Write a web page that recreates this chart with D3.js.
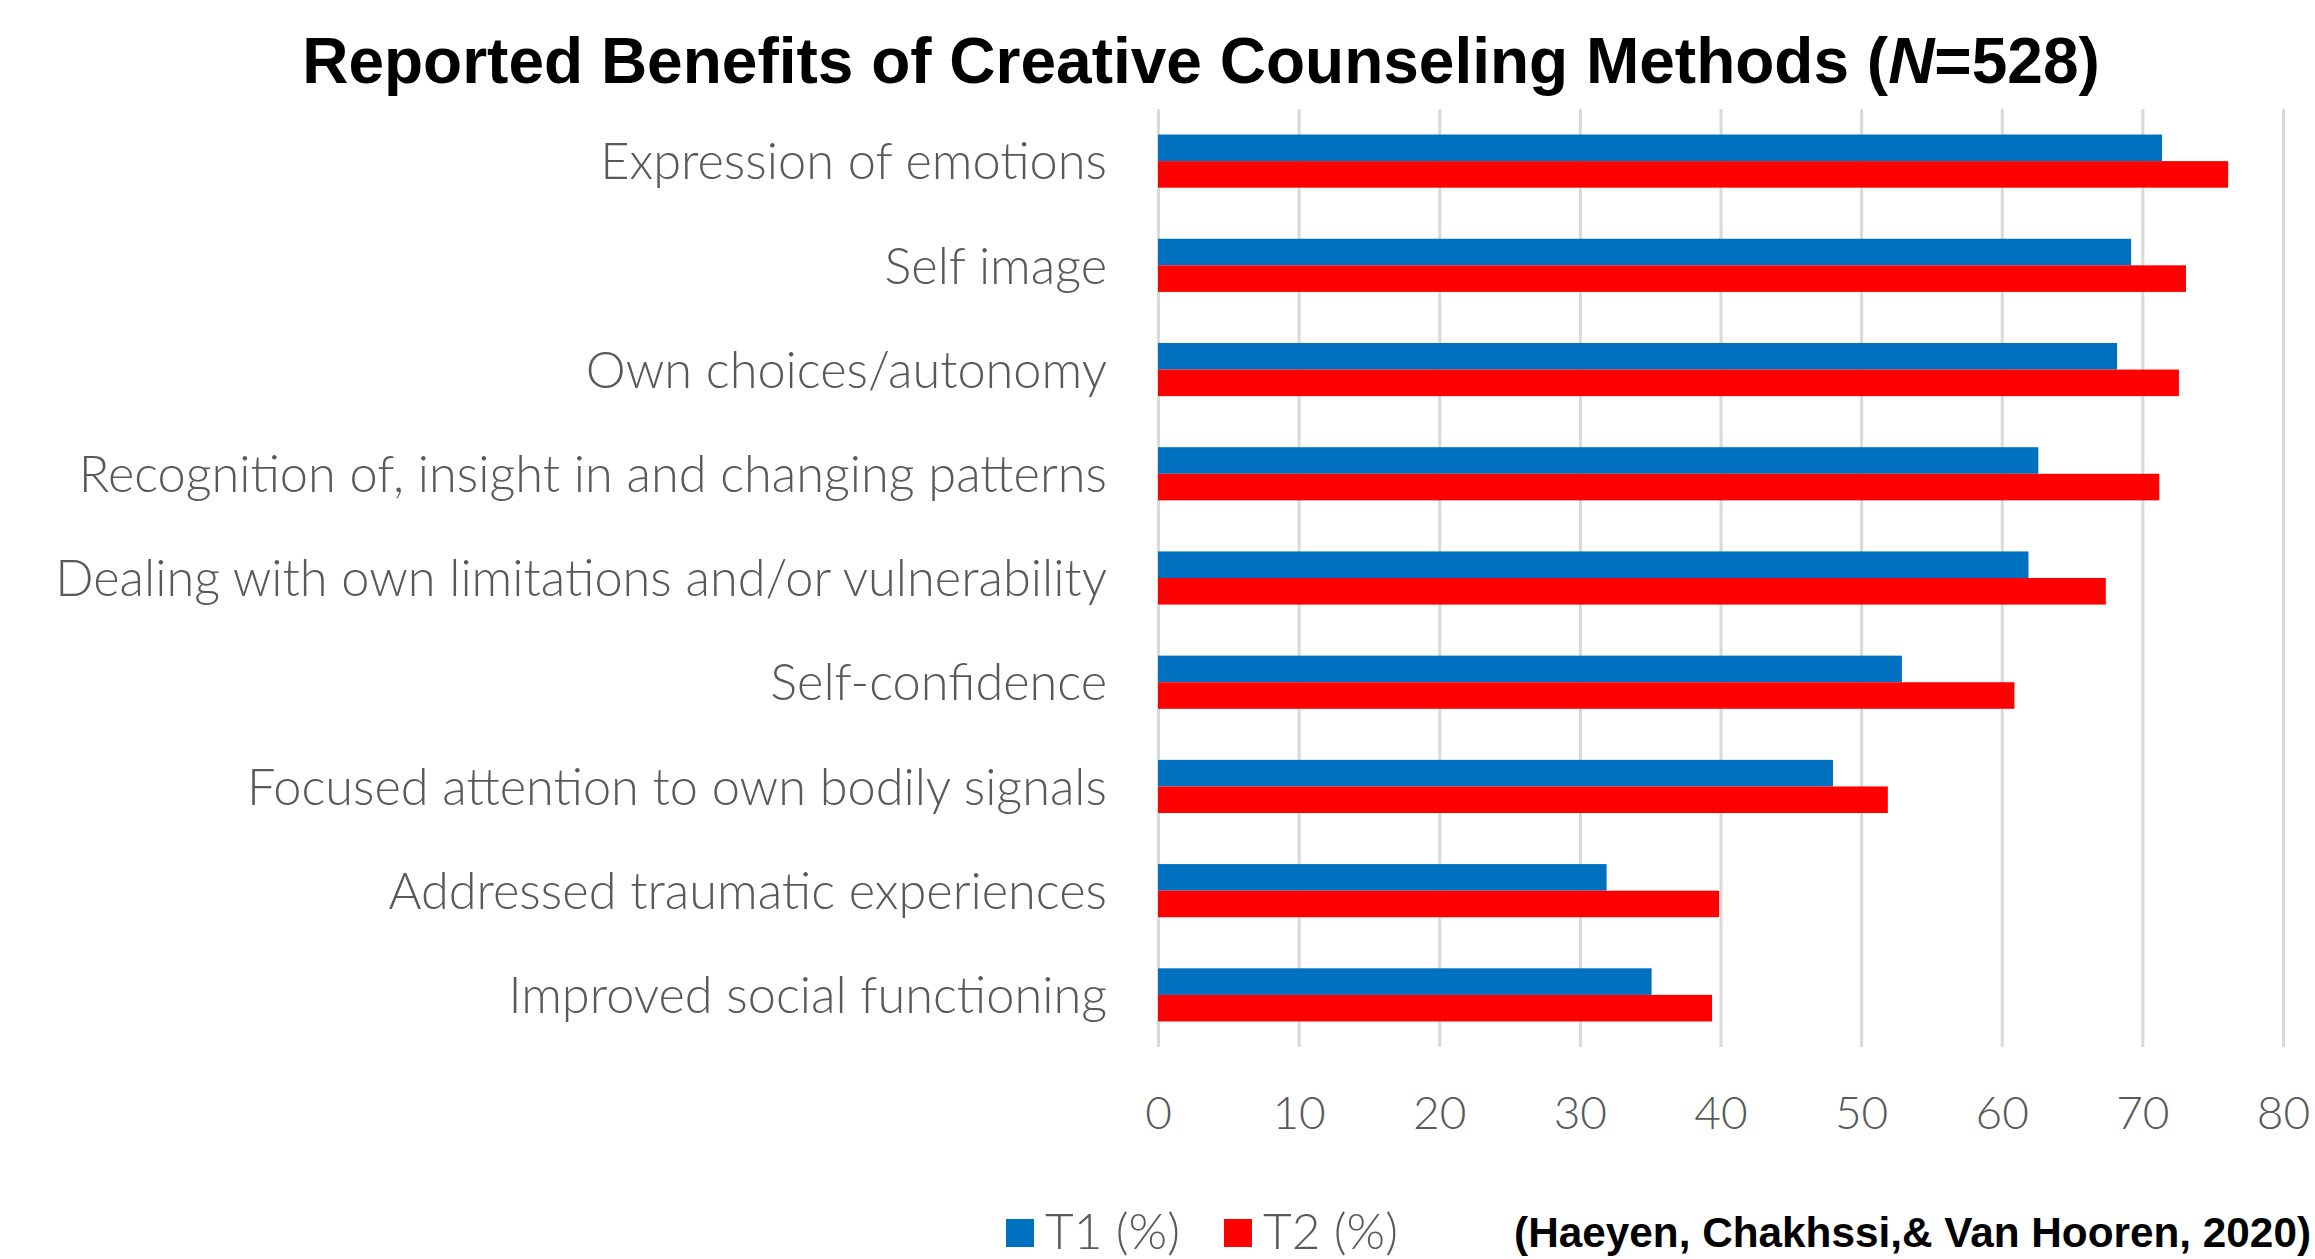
<!DOCTYPE html>
<html>
<head>
<meta charset="utf-8">
<script src="https://cdn.jsdelivr.net/npm/d3@7"></script>
<style>
    body { margin: 0; background: #ffffff; }
    #chart { width: 2315px; height: 1259px; }
    .grid line { stroke: #d9d9d9; stroke-width: 3; }
    .grid .domain { display: none; }
    .axis .domain { display: none; }
    .axis line { display: none; }
    .axis text { font-family: Lato, 'Open Sans', sans-serif; font-weight: 300; fill: #595959; }
</style>
</head>
<body>
<div id="chart"></div>
<script>
// Dados do gráfico
const categories = [
    'Expression of emotions',
    'Self image',
    'Own choices/autonomy',
    'Recognition of, insight in and changing patterns',
    'Dealing with own limitations and/or vulnerability',
    'Self-confidence',
    'Focused attention to own bodily signals',
    'Addressed traumatic experiences',
    'Improved social functioning'
];
const t1Values = [71.4, 69.2, 68.2, 62.6, 61.9, 52.9, 48.0, 31.9, 35.1];
const t2Values = [76.1, 73.1, 72.6, 71.2, 67.4, 60.9, 51.9, 39.9, 39.4];
const seriesNames = ['T1 (%)', 'T2 (%)'];
const seriesColors = ['#0070c0', '#ff0000'];
const xTicks = [0, 10, 20, 30, 40, 50, 60, 70, 80];

function drawChart() {
    const container = d3.select('#chart');
    container.selectAll('*').remove();

    const totalWidth = 2315;
    const totalHeight = 1259;
    const margin = {top: 109, right: 32, bottom: 212, left: 1158};
    const width = totalWidth - margin.left - margin.right;
    const height = totalHeight - margin.top - margin.bottom;

    const root = container.append('svg')
        .attr('width', totalWidth)
        .attr('height', totalHeight);

    const svg = root.append('g')
        .attr('transform', `translate(${margin.left},${margin.top})`);

    const data = categories.map((c, i) => ({
        category: c,
        values: [
            {series: seriesNames[0], value: t1Values[i]},
            {series: seriesNames[1], value: t2Values[i]}
        ]
    }));

    // Escalas
    const x = d3.scaleLinear()
        .domain([0, 80])
        .range([0, width]);

    const y0 = d3.scaleBand()
        .domain(categories)
        .range([0, height])
        .paddingInner(0.49)
        .paddingOuter(0.245);

    const y1 = d3.scaleBand()
        .domain(seriesNames)
        .range([0, y0.bandwidth()]);

    const color = d3.scaleOrdinal()
        .domain(seriesNames)
        .range(seriesColors);

    // Grade
    svg.append('g')
        .attr('class', 'grid')
        .call(d3.axisBottom(x).tickValues(xTicks).tickSize(height).tickFormat(''));

    // Eixos
    svg.append('g')
        .attr('class', 'axis')
        .attr('transform', `translate(0,${height})`)
        .call(d3.axisBottom(x).tickValues(xTicks).tickSize(0).tickPadding(49))
        .selectAll('text')
        .style('font-size', '46px');

    svg.append('g')
        .attr('class', 'axis')
        .call(d3.axisLeft(y0).tickSize(0).tickPadding(51))
        .selectAll('text')
        .style('font-size', '50.5px')
        .attr('dy', '0.36em');

    // Barras
    const group = svg.selectAll('.cat-group')
        .data(data)
        .enter().append('g')
        .attr('class', 'cat-group')
        .attr('transform', d => `translate(0,${y0(d.category)})`);

    group.selectAll('rect')
        .data(d => d.values)
        .enter().append('rect')
        .attr('x', x(0))
        .attr('y', d => y1(d.series))
        .attr('width', d => x(d.value) - x(0))
        .attr('height', y1.bandwidth())
        .attr('fill', d => color(d.series));

    // Título
    const title = root.append('text')
        .attr('x', 1201)
        .attr('y', 83)
        .attr('text-anchor', 'middle')
        .style('font-family', "'Liberation Sans', Arial, sans-serif")
        .style('font-weight', 'bold')
        .style('font-size', '64px')
        .style('fill', '#000000');
    title.append('tspan').text('Reported Benefits of Creative Counseling Methods (');
    title.append('tspan').style('font-style', 'italic').text('N');
    title.append('tspan').text('=528)');

    // Legenda
    const legend = root.append('g')
        .attr('class', 'legend')
        .attr('transform', 'translate(1006, 1219)');

    const legendOffsets = [0, 218];
    seriesNames.forEach((name, i) => {
        const lg = legend.append('g')
            .attr('transform', `translate(${legendOffsets[i]}, 0)`);

        lg.append('rect')
            .attr('width', 28)
            .attr('height', 28)
            .attr('fill', color(name));

        lg.append('text')
            .attr('x', 39)
            .attr('y', 30)
            .style('font-family', "Lato, 'Open Sans', sans-serif")
            .style('font-weight', 300)
            .style('font-size', '49.5px')
            .style('fill', '#595959')
            .text(name);
    });

    // Fonte
    root.append('text')
        .attr('x', 2311)
        .attr('y', 1247)
        .attr('text-anchor', 'end')
        .style('font-family', "'Liberation Sans', Arial, sans-serif")
        .style('font-weight', 'bold')
        .style('font-size', '42.3px')
        .style('fill', '#000000')
        .text('(Haeyen, Chakhssi,& Van Hooren, 2020)');
}

drawChart();
</script>
</body>
</html>
